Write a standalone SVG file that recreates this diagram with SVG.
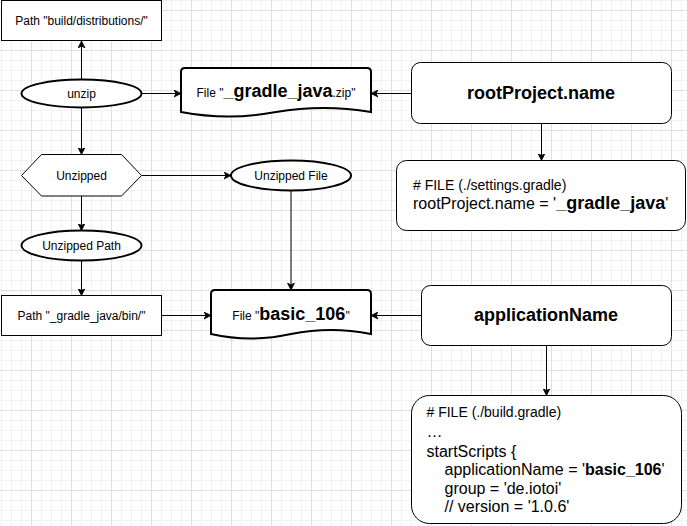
<svg xmlns="http://www.w3.org/2000/svg" width="687" height="526" viewBox="0 0 687 526">
  <defs>
    <pattern id="grid" x="31" y="10" width="40" height="40" patternUnits="userSpaceOnUse">
      <path d="M10.5,0 V40 M20.5,0 V40 M30.5,0 V40 M0,10.5 H40 M0,20.5 H40 M0,30.5 H40" stroke="#f1f1f1" stroke-width="1" fill="none"/>
      <path d="M0.5,0 V40 M0,0.5 H40" stroke="#e0e0e0" stroke-width="1" fill="none"/>
    </pattern>
    <marker id="arrow" viewBox="0 0 8 8" refX="7" refY="4" markerWidth="8" markerHeight="8" markerUnits="userSpaceOnUse" orient="auto">
      <path d="M0,0.5 L7,4 L0,7.5 L2,4 Z" fill="#000" stroke="#000" stroke-width="0.8" stroke-linejoin="miter"/>
    </marker>
    <style>
      text { font-family: "Liberation Sans", Arial, sans-serif; fill: #000; }
      .lbl { font-size: 12px; text-anchor: middle; }
      .big { font-size: 18px; font-weight: bold; text-anchor: middle; }
      .box { fill: #fff; stroke: #000; stroke-width: 1; }
      .thick { fill: #fff; stroke: #000; stroke-width: 2; }
      .conn { fill: none; stroke: #000; stroke-width: 1; marker-end: url(#arrow); }
      .b { font-weight: bold; }
    </style>
  </defs>
  <rect width="687" height="526" fill="#fff"/>
  <rect width="687" height="526" fill="url(#grid)"/>

  <g id="connectors">
    <path class="conn" d="M81.5,79.5 V41"/>
    <path class="conn" d="M141.5,93.5 H181"/>
    <path class="conn" d="M411.5,93.5 H371"/>
    <path class="conn" d="M541.5,123.5 V160.5"/>
    <path class="conn" d="M81.5,107.5 V154.5"/>
    <path class="conn" d="M141.5,175.5 H231"/>
    <path class="conn" d="M291,190.5 V290"/>
    <path class="conn" d="M81.5,196 V230.5"/>
    <path class="conn" d="M81.5,260.5 V295.5"/>
    <path class="conn" d="M161.5,315.5 H211"/>
    <path class="conn" d="M421.5,315.5 H371"/>
    <path class="conn" d="M546.5,345.5 V395.5"/>
  </g>

  <g id="path-dist">
    <rect class="box" x="1.5" y="0.5" width="160" height="40"/>
    <text class="lbl" x="81.5" y="24.5">Path "build/distributions/"</text>
  </g>

  <g id="unzip">
    <ellipse class="thick" cx="81.5" cy="93.5" rx="60" ry="14"/>
    <text class="lbl" x="81.5" y="97.5">unzip</text>
  </g>

  <g id="file-zip">
    <path class="thick" d="M181,72 Q181,68 185,68 L367,68 Q371,68 371,72 L371,112 Q323.5,104 276,112 Q228.5,121 181,112 Z"/>
    <text class="lbl" x="276" y="97"><tspan>File "</tspan><tspan class="b" font-size="18">_gradle_java</tspan><tspan>.zip"</tspan></text>
  </g>

  <g id="root-project-name">
    <rect class="box" x="411.5" y="62.5" width="260" height="61" rx="9" ry="9"/>
    <text class="big" x="541" y="99">rootProject.name</text>
  </g>

  <g id="settings-file">
    <rect class="box" x="396.5" y="160.5" width="289" height="70" rx="10" ry="10"/>
    <text x="413" y="190" font-size="14">#&#160;FILE (./settings.gradle)</text>
    <text x="413" y="208.5" font-size="16">rootProject.name = '<tspan class="b" font-size="18">_gradle_java</tspan>'</text>
  </g>

  <g id="unzipped">
    <polygon class="box" points="21.5,175.5 41.5,154.5 121.5,154.5 141.5,175.5 121.5,196 41.5,196"/>
    <text class="lbl" x="81.5" y="179.5">Unzipped</text>
  </g>

  <g id="unzipped-file">
    <ellipse class="thick" cx="291" cy="175.5" rx="60" ry="15"/>
    <text class="lbl" x="291" y="179.5">Unzipped File</text>
  </g>

  <g id="unzipped-path">
    <ellipse class="thick" cx="81.5" cy="245.5" rx="60" ry="15"/>
    <text class="lbl" x="81.5" y="249.5">Unzipped Path</text>
  </g>

  <g id="path-bin">
    <rect class="box" x="1.5" y="295.5" width="160" height="40"/>
    <text class="lbl" x="81.5" y="319.5">Path "_gradle_java/bin/"</text>
  </g>

  <g id="file-basic">
    <path class="thick" d="M211,294 Q211,290 215,290 L367,290 Q371,290 371,294 L371,334 Q331,326 291,334 Q251,343 211,334 Z"/>
    <text class="lbl" x="291" y="320"><tspan>File "</tspan><tspan class="b" font-size="18">basic_106</tspan><tspan>"</tspan></text>
  </g>

  <g id="application-name">
    <rect class="box" x="421.5" y="285.5" width="250" height="60" rx="9" ry="9"/>
    <text class="big" x="546" y="321">applicationName</text>
  </g>

  <g id="build-file">
    <rect class="box" x="411.5" y="395.5" width="270" height="128" rx="18" ry="18"/>
    <text x="426.5" y="416.5" font-size="14">#&#160;FILE (./build.gradle)</text>
    <text x="426.5" y="436.5" font-size="16">…</text>
    <text x="426.5" y="456.5" font-size="16">startScripts {</text>
    <text x="444.5" y="475" font-size="16">applicationName = '<tspan class="b">basic_106</tspan>'</text>
    <text x="444.5" y="493.5" font-size="16">group = 'de.iotoi'</text>
    <text x="444.5" y="512" font-size="16">// version = '1.0.6'</text>
  </g>
</svg>
